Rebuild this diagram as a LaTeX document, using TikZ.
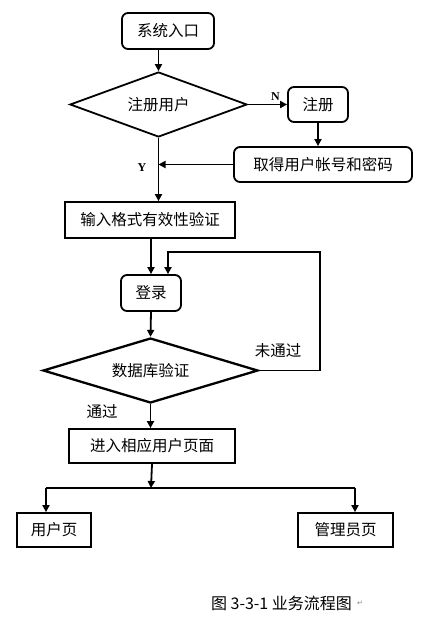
\documentclass[tikz,border=0pt]{standalone}
\usepackage{fontspec}
\newfontfamily\cjk{Noto Sans CJK SC}
\newfontfamily\latin{Liberation Serif}
\newfontfamily\symb{DejaVu Sans}
\usetikzlibrary{shapes.geometric,arrows.meta}
\begin{document}
\begin{tikzpicture}[x=1pt,y=-1pt,line width=1.8pt,
  font=\cjk\fontsize{15.5}{18}\selectfont,
  box/.style={draw,rectangle,inner sep=0pt},
  rbox/.style={box,rounded corners=6pt},
  decision/.style={draw,diamond,aspect=3,inner sep=0pt},
  flow/.style={-{Triangle[length=7pt,width=7pt]}},
  yn/.style={font=\latin\bfseries\fontsize{12}{14}\selectfont}]
  \useasboundingbox (0,0) rectangle (429,621);
  % upper part: entry and registration
  \node[rbox,minimum width=92pt,minimum height=36pt] (entry) at (168,31) {系统入口};
  \node[decision,minimum width=177pt,minimum height=65pt] (register) at (158.5,104.5) {注册用户};
  \node[rbox,minimum width=60pt,minimum height=35pt] (signup) at (318,104.5) {注册};
  \node[rbox,minimum width=178pt,minimum height=35pt] (account) at (323,164.5) {取得用户帐号和密码};
  \node[box,minimum width=170pt,minimum height=36pt] (check) at (150,220) {输入格式有效性验证};
  \draw[flow] (register.north |- entry.south) -- (register.north);
  \draw[flow] (register.east) -- (signup.west) node[yn,pos=0.7,above] (no) {N};
  \draw[flow] (signup.south) -- (signup.south |- account.north);
  \draw[flow] (account.west) -- (account.west -| register.south);
  \draw[flow] (register.south) -- (register.south |- check.north);
  \node[yn] (yes) at (142,168) {Y};
  % login and database check:
  \node[rbox,minimum width=60pt,minimum height=36pt] (login) at (151,293) {登录};
  \node[decision,minimum width=215pt,minimum height=65pt,line width=2.3pt] (verify) at (150.5,370.5) {数据库验证};
  \coordinate (loop) at (320,252);
  \draw[flow] (login.north |- check.south) -- (login.north);
  \draw[flow] (login.south) -- (verify.north);
  \draw[flow] (verify.east) -| (loop) -| ([xshift=17pt]login.north);
  \node (fail) at (278,351) {未通过};
  \node (pass) at (102,412) {通过};
  % pages:
  \node[box,minimum width=166pt,minimum height=34pt] (enter) at (152,446) {进入相应用户页面};
  \node[box,minimum width=74pt,minimum height=34pt] (user) at (54,530) {用户页};
  \node[box,minimum width=95pt,minimum height=34pt] (admin) at (345.5,530) {管理员页};
  \coordinate (split) at (151,488);
  \coordinate (splitL) at (46,488);
  \coordinate (splitR) at (355,488);
  \draw[flow] (verify.south) -- (verify.south |- enter.north);
  \draw[flow] (enter.south) -- (split);
  \draw (splitL) -- (splitR);
  \draw[flow] (splitL) -- (splitL |- user.north);
  \draw[flow] (splitR) -- (splitR |- admin.north);
  % caption:
  \node[font=\cjk\fontsize{16}{18}\selectfont] (caption) at (281.5,603) {图 3-3-1 业务流程图};
  \node[font=\symb\fontsize{7}{8}\selectfont,text=gray,anchor=west,inner sep=0pt] (mark) at (caption.east) {↵};
\end{tikzpicture}
\end{document}
